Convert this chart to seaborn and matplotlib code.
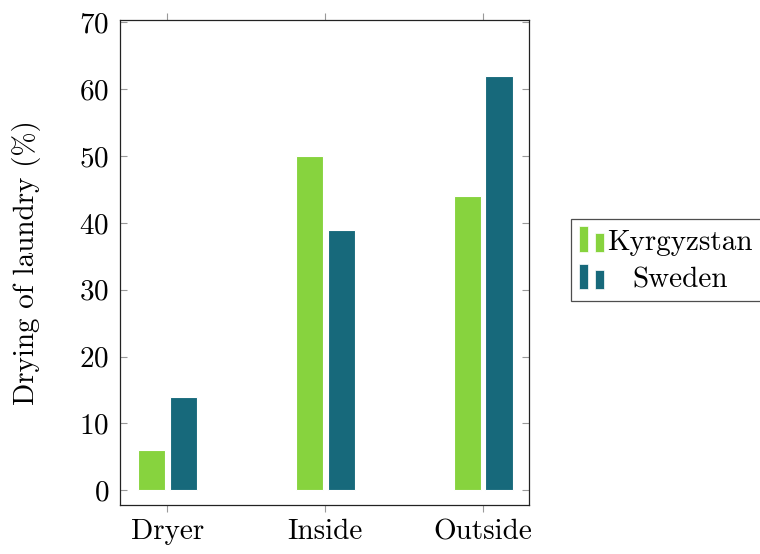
import numpy as np
import pandas as pd
import seaborn as sns
import matplotlib.pyplot as plt
from matplotlib.patches import Rectangle
from matplotlib.legend_handler import HandlerBase

# data
places = ["Dryer", "Inside", "Outside"]
kyrgyzstan = [6, 50, 44]
sweden = [14, 39, 62]
countries = ["Kyrgyzstan", "Sweden"]
colors = ["#87d33e", "#17697b"]

df = pd.DataFrame({
    "place": places * 2,
    "value": kyrgyzstan + sweden,
    "country": [countries[0]] * 3 + [countries[1]] * 3,
})

sns.set_style("white")
plt.rcParams["font.family"] = ["cmr10", "DejaVu Serif"]
plt.rcParams["axes.formatter.use_mathtext"] = True
plt.rcParams["mathtext.fontset"] = "cm"
plt.rcParams["text.color"] = "black"
plt.rcParams["axes.labelcolor"] = "black"
plt.rcParams["xtick.labelcolor"] = "black"
plt.rcParams["ytick.labelcolor"] = "black"

fig = plt.figure(figsize=(7.6, 5.54), dpi=100)
ax = fig.add_axes([0.158, 0.0884, 0.538, 0.875])

sns.barplot(data=df, x="place", y="value", hue="country", palette=colors,
            saturation=1, width=0.404, gap=0.14, edgecolor="white",
            linewidth=0.8, legend=False, ax=ax)

ax.set_xlim(-0.3, 2.29)
ax.set_ylim(-2.2, 70.3)
ax.set_yticks(range(0, 71, 10))
ax.set_xlabel("")
ax.set_ylabel("Drying of laundry (%)", fontsize=21, labelpad=27)

for s in ax.spines.values():
    s.set_color("#222222")
    s.set_linewidth(0.9)

ax.tick_params(axis="x", direction="out", length=5, width=0.8, color="#999999",
               top=True, bottom=True, labelsize=21, pad=5)
ax.tick_params(axis="y", direction="in", length=5, width=0.8, color="#999999",
               left=True, right=True, labelsize=21, pad=8)


class TwoBars(HandlerBase):
    # pgfplots style bar legend: a tall bar and a shorter one
    def create_artists(self, legend, orig_handle, xdescent, ydescent,
                       width, height, fontsize, trans):
        w = width * 0.36
        fc = orig_handle.get_facecolor()
        r1 = Rectangle((0, -1), w, fontsize * 0.86, facecolor=fc,
                       edgecolor="white", linewidth=0.5, transform=trans)
        r2 = Rectangle((width - w, -1), w, fontsize * 0.64, facecolor=fc,
                       edgecolor="white", linewidth=0.5, transform=trans)
        return [r1, r2]


handles = [Rectangle((0, 0), 1, 1, facecolor=c) for c in colors]
leg = fig.legend(handles, countries, loc="upper left",
                 bbox_to_anchor=(0.751, 0.605), bbox_transform=fig.transFigure,
                 borderaxespad=0, fancybox=False, shadow=False, fontsize=21,
                 handler_map={Rectangle: TwoBars()}, handlelength=0.86,
                 handleheight=1.05, handletextpad=0.12, borderpad=0.27,
                 labelspacing=0.27)
leg.get_frame().set_edgecolor("#222222")
leg.get_frame().set_linewidth(0.9)

# centre the shorter legend label like the original
fig.canvas.draw()
r = fig.canvas.get_renderer()
texts = leg.get_texts()
widths = [t.get_window_extent(r).width for t in texts]
for t, w in zip(texts, widths):
    t.set_x((max(widths) - w) / 2)

fig.savefig("out.png", dpi=100)
